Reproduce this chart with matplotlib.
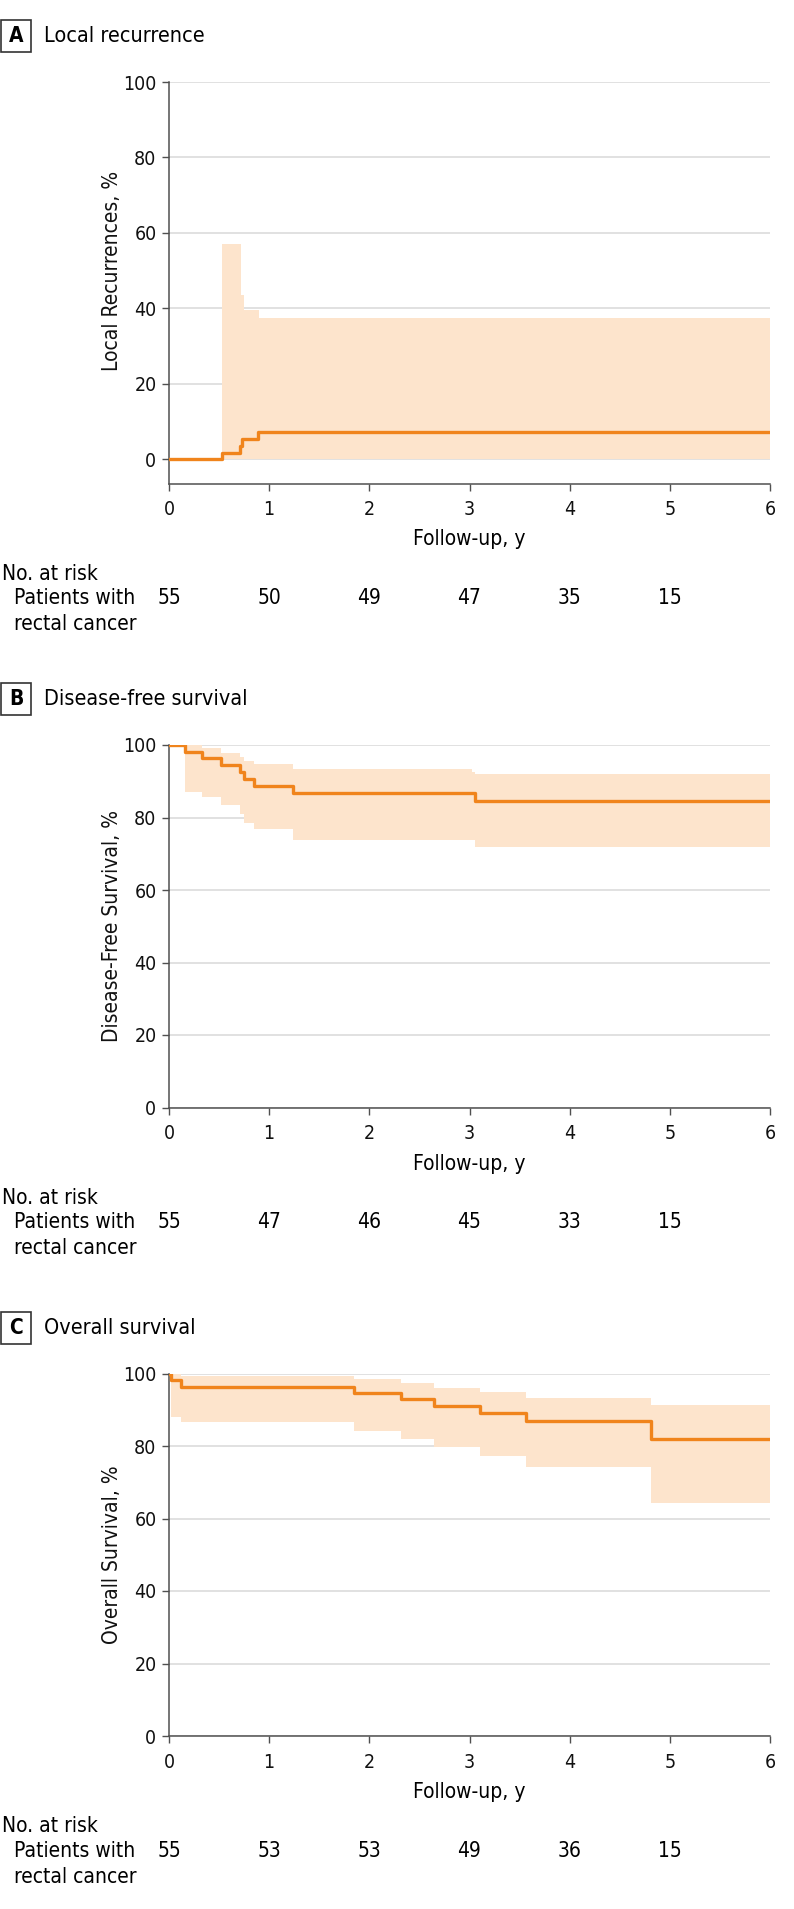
import matplotlib
matplotlib.use('Agg')
import matplotlib.pyplot as plt
from matplotlib import font_manager
from matplotlib.patches import Rectangle

# Fuente: se prefiere una condensada si existe
fuentes = font_manager.fontManager.ttflist
nombres = [f.name for f in fuentes]
if 'Liberation Sans Narrow' in nombres:
    plt.rcParams['font.family'] = ['Liberation Sans Narrow', 'DejaVu Sans']
elif any(f.name == 'DejaVu Sans' and 'condensed' in str(f.stretch) for f in fuentes):
    plt.rcParams['font.family'] = ['DejaVu Sans']
    plt.rcParams['font.stretch'] = 'condensed'
else:
    plt.rcParams['font.family'] = ['DejaVu Sans']

# A: recurrencia local (incidencia acumulada, %)
a_t = [0, 0.53, 0.706, 0.73, 0.893, 6.0]
a_v = [0, 1.8, 3.6, 5.5, 7.3, 7.3]
a_ci_t = [0.53, 0.714, 0.748, 0.9, 6.0]
a_ci_hi = [57.0, 43.5, 39.5, 37.5, 37.5]
a_ci_lo = [0, 0, 0, 0, 0]
a_riesgo = [55, 50, 49, 47, 35, 15]

# B: supervivencia libre de enfermedad
b_t = [0, 0.16, 0.327, 0.52, 0.71, 0.75, 0.85, 1.24, 3.05, 6.0]
b_v = [100, 98.2, 96.3, 94.5, 92.6, 90.6, 88.8, 86.7, 84.6, 84.6]
b_ci_t = [0.16, 0.327, 0.52, 0.71, 0.75, 0.85, 1.24, 3.02, 3.05, 6.0]
b_ci_hi = [100, 99.1, 97.9, 96.8, 95.7, 94.7, 93.3, 92.6, 92.0, 92.0]
b_ci_lo = [87.1, 85.7, 83.4, 81.1, 78.5, 76.7, 73.9, 73.9, 71.8, 71.8]
b_riesgo = [55, 47, 46, 45, 33, 15]

# C: supervivencia global
c_t = [0, 0.024, 0.117, 1.85, 2.32, 2.65, 3.10, 3.56, 4.81, 6.0]
c_v = [100, 98.2, 96.4, 94.6, 92.9, 91.0, 89.2, 86.9, 81.8, 81.8]
c_ci_t = [0.024, 0.117, 1.85, 2.32, 2.65, 3.10, 3.56, 4.81, 6.0]
c_ci_hi = [100, 99.3, 98.6, 97.4, 96.1, 94.8, 93.2, 91.4, 91.4]
c_ci_lo = [88.1, 86.5, 84.1, 81.9, 79.8, 77.3, 74.1, 64.2, 64.2]
c_riesgo = [55, 53, 53, 49, 36, 15]

anios = [0, 1, 2, 3, 4, 5, 6]
yticks = [0, 20, 40, 60, 80, 100]

NARANJA = '#F0841C'
BANDA = '#FDE4CC'
GRIS = '#505050'

W, H = 794, 1909
fig = plt.figure(figsize=(W / 100, H / 100), dpi=100)


def fx(px):
    return px / W


def fy(py):
    return 1 - py / H


def panel(letra, titulo, ylabel, t, v, ci_t, ci_hi, ci_lo, riesgo, top, bottom, ymin):
    izq, der = 169, 770
    ax = fig.add_axes([fx(izq), fy(bottom), fx(der - izq), (bottom - top) / H])
    ax.fill_between(ci_t, ci_lo, ci_hi, step='post', color=BANDA, lw=0, zorder=1)
    ax.step(t, v, where='post', color=NARANJA, lw=2.4, zorder=3)
    ax.set_xlim(0, 6)
    ax.set_ylim(ymin, 100)
    ax.set_xticks(anios)
    ax.set_yticks(yticks)
    ax.yaxis.grid(True, color='#DCDCDC', lw=1.2, zorder=0)
    ax.set_axisbelow(True)
    for s in ['top', 'right']:
        ax.spines[s].set_visible(False)
    for s in ['left', 'bottom']:
        ax.spines[s].set_color(GRIS)
        ax.spines[s].set_linewidth(1.1)
    ax.spines['left'].set_bounds(ymin, 100)
    ax.tick_params(length=5, width=1, color=GRIS, labelsize=14, labelcolor='#111111')
    ax.tick_params(axis='x', pad=7)
    ax.tick_params(axis='y', pad=4)
    ax.set_ylabel(ylabel, fontsize=15, color='#111111')
    ax.yaxis.set_label_coords(-57 / (der - izq), (50 - ymin) / (100 - ymin))
    ax.yaxis.label.set_va('center')

    # titulo del panel
    yc = top - 46
    fig.add_artist(Rectangle((fx(1), fy(yc + 16)), fx(30), 32 / H, transform=fig.transFigure,
                             fc='white', ec='#333333', lw=1.2))
    fig.text(fx(16), fy(yc), letra, ha='center', va='center', fontsize=15, fontweight='bold')
    fig.text(fx(44), fy(yc), titulo, ha='left', va='center', fontsize=15.5)

    # eje x y tabla de riesgo
    fig.text(fx((izq + der) / 2), fy(bottom + 56), 'Follow-up, y', ha='center', va='center', fontsize=15)
    fig.text(fx(2), fy(bottom + 90), 'No. at risk', ha='left', va='center', fontsize=15)
    fig.text(fx(14), fy(bottom + 115), 'Patients with', ha='left', va='center', fontsize=15)
    fig.text(fx(14), fy(bottom + 141), 'rectal cancer', ha='left', va='center', fontsize=15)
    for i, n in enumerate(riesgo):
        xp = izq + anios[i] * (der - izq) / 6
        fig.text(fx(xp), fy(bottom + 115), str(n), ha='center', va='center', fontsize=15)
    return ax


panel('A', 'Local recurrence', 'Local Recurrences, %', a_t, a_v, a_ci_t, a_ci_hi, a_ci_lo,
      a_riesgo, 82, 483.5, -6.4)
panel('B', 'Disease-free survival', 'Disease-Free Survival, %', b_t, b_v, b_ci_t, b_ci_hi, b_ci_lo,
      b_riesgo, 745, 1107.5, 0)
panel('C', 'Overall survival', 'Overall Survival, %', c_t, c_v, c_ci_t, c_ci_hi, c_ci_lo,
      c_riesgo, 1373.5, 1736, 0)

fig.savefig('out.png', dpi=100)
